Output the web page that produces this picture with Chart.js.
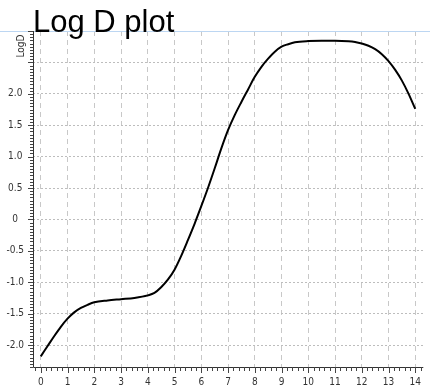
<!DOCTYPE html>
<html>
<head>
<meta charset="utf-8">
<title>Log D plot</title>
<script src="https://cdn.jsdelivr.net/npm/chart.js@4/dist/chart.umd.min.js"></script>
<style>
  html, body { margin: 0; padding: 0; background: #fff; }
  #wrap { width: 430px; height: 391px; position: relative; }
</style>
</head>
<body>
<div id="wrap"><canvas id="c"></canvas></div>
<script>
// pH values and the corresponding LogD curve
const phValues = [0, 0.25, 0.5, 0.75, 1.0, 1.25, 1.5, 1.75, 2.0, 2.5, 3.0, 3.5, 4.0, 4.25, 4.5, 4.75,
  5.0, 5.25, 5.5, 5.75, 6.0, 6.25, 6.5, 6.75, 7.0, 7.25, 7.5, 7.75, 8.0, 8.25, 8.5, 8.75,
  9.0, 9.25, 9.5, 10, 10.5, 11, 11.5, 11.75, 12, 12.25, 12.5, 12.75, 13, 13.25, 13.5, 13.75, 14];
const logDValues = [-2.18, -2.02, -1.86, -1.71, -1.58, -1.48, -1.41, -1.36, -1.32, -1.29, -1.27, -1.25, -1.21, -1.17, -1.08, -0.96,
  -0.80, -0.58, -0.33, -0.07, 0.21, 0.50, 0.81, 1.13, 1.42, 1.66, 1.87, 2.07, 2.27, 2.43, 2.56, 2.67,
  2.75, 2.79, 2.82, 2.84, 2.845, 2.845, 2.838, 2.825, 2.80, 2.765, 2.71, 2.63, 2.52, 2.38, 2.21, 2.00, 1.76];

// axis ticks
const xTicks = [0, 1, 2, 3, 4, 5, 6, 7, 8, 9, 10, 11, 12, 13, 14];
const yTicks = [-2.0, -1.5, -1.0, -0.5, 0, 0.5, 1.0, 1.5, 2.0, 2.5];
const yTickLabels = ['-2.0', '-1.5', '-1.0', '-0.5', '0', '0.5', '1.0', '1.5', '2.0', ''];

const titleText = 'Log D plot';
const yAxisTitle = 'LogD';

const tickFont = { family: "'Liberation Sans Narrow', 'DejaVu Sans Condensed', 'Liberation Sans', Arial, sans-serif", size: 10 };

// frame, header, y title and minor tick marks
const decorations = {
  id: 'decorations',
  afterDraw(chart) {
    const ctx = chart.ctx;
    const xs = chart.scales.x, ys = chart.scales.y;
    const area = chart.chartArea;
    ctx.save();
    // light blue top rule
    ctx.strokeStyle = '#bcd6f2';
    ctx.lineWidth = 1;
    ctx.beginPath();
    ctx.moveTo(0, area.top + 0.5);
    ctx.lineTo(chart.width, area.top + 0.5);
    ctx.stroke();

    // axis lines
    ctx.strokeStyle = '#333';
    ctx.beginPath();
    ctx.moveTo(area.left + 0.5, area.top);
    ctx.lineTo(area.left + 0.5, area.bottom + 0.5);
    ctx.lineTo(area.right, area.bottom + 0.5);
    ctx.stroke();

    // minor ticks on y (every 0.05) and x (every 0.2)
    ctx.strokeStyle = '#444';
    ctx.beginPath();
    for (let i = Math.ceil(ys.min / 0.05); i * 0.05 <= ys.max; i++) {
      const v = i * 0.05;
      const py = Math.round(ys.getPixelForValue(v)) + 0.5;
      const major = i % 10 === 0;
      ctx.moveTo(area.left, py);
      ctx.lineTo(area.left - (major ? 5 : 3), py);
    }
    for (let i = Math.ceil(xs.min / 0.2); i * 0.2 <= xs.max; i++) {
      const v = i * 0.2;
      const px = Math.round(xs.getPixelForValue(v)) + 0.5;
      const major = i % 5 === 0;
      ctx.moveTo(px, area.bottom);
      ctx.lineTo(px, area.bottom + (major ? 6 : 4));
    }
    ctx.stroke();

    // header
    ctx.fillStyle = '#000';
    ctx.font = "31px 'Liberation Sans', Arial, sans-serif";
    ctx.textAlign = 'left';
    ctx.textBaseline = 'alphabetic';
    ctx.fillText(titleText, 33, 32);

    // vertical axis title at the top of the y axis
    ctx.translate(21, 46);
    ctx.rotate(-Math.PI / 2);
    ctx.fillStyle = '#333';
    ctx.font = "10px 'Liberation Sans Narrow', 'DejaVu Sans Condensed', 'Liberation Sans', sans-serif";
    ctx.textAlign = 'center';
    ctx.textBaseline = 'middle';
    ctx.fillText(yAxisTitle, 0, 0);
    ctx.restore();
  }
};

new Chart(document.getElementById('c'), {
  type: 'line',
  data: {
    datasets: [{
      data: phValues.map((x, i) => ({ x: x, y: logDValues[i] })),
      borderColor: '#000',
      borderWidth: 2,
      pointRadius: 0,
      cubicInterpolationMode: 'monotone',
      fill: false
    }]
  },
  options: {
    responsive: true,
    maintainAspectRatio: false,
    animation: false,
    layout: { padding: { top: 31, right: 0, left: 0, bottom: 0 } },
    plugins: { legend: { display: false }, title: { display: false }, tooltip: { enabled: false } },
    scales: {
      x: {
        type: 'linear',
        min: -0.29,
        max: 14.3,
        afterBuildTicks(scale) { scale.ticks = xTicks.map(v => ({ value: v })); },
        afterFit(scale) { scale.height = 24; },
        // dashed vertical grid lines
        border: { display: false, dash: [5, 4] },
        grid: {
          color: '#c8c8c8',
          lineWidth: 1,
          drawTicks: false,
          tickLength: 0
        },
        ticks: {
          font: tickFont,
          color: '#333',
          padding: 9,
          maxRotation: 0,
          autoSkip: false,
          callback: v => String(v)
        }
      },
      y: {
        type: 'linear',
        min: -2.35,
        max: 3.0,
        afterBuildTicks(scale) { scale.ticks = yTicks.map(v => ({ value: v })); },
        afterFit(scale) { scale.width = 33; },
        // dotted horizontal grid lines
        border: { display: false, dash: [2, 2] },
        grid: {
          color: '#bdbdbd',
          lineWidth: 1,
          drawTicks: false,
          tickLength: 0
        },
        ticks: {
          font: tickFont,
          color: '#333',
          padding: 9,
          crossAlign: 'center',
          autoSkip: false,
          callback: (v, i) => yTickLabels[i]
        }
      }
    }
  },
  plugins: [decorations]
});
</script>
</body>
</html>
